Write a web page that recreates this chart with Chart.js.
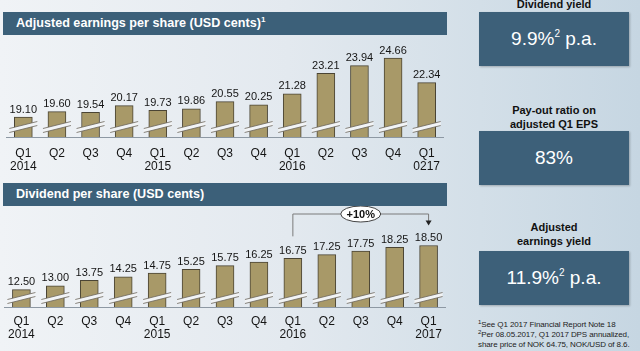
<!DOCTYPE html>
<html>
<head>
<meta charset="utf-8">
<script src="https://cdn.jsdelivr.net/npm/chart.js@4.4.1/dist/chart.umd.min.js"></script>
<style>
  body {
    margin: 0;
    width: 640px;
    height: 351px;
    overflow: hidden;
    position: relative;
    font-family: "Liberation Sans", Arial, sans-serif;
    background: linear-gradient(90deg, #f0f3f6 0%, #e3e9ef 45%, #d3dfe8 75%, #c6d6e2 100%);
  }
  canvas { position: absolute; left: 0; }
  .hdr {
    position: absolute; left: 3px; width: 444px; height: 23px;
    background: #3c6079; color: #fff; font-weight: bold; font-size: 12.6px;
    line-height: 23px; padding-left: 13px; box-sizing: border-box;
  }
  .hdr sup { font-size: 8px; vertical-align: 5px; line-height: 0; }
  .ttl {
    position: absolute; left: 479px; width: 150px; text-align: center;
    font-weight: bold; font-size: 11px; line-height: 14px; color: #111;
  }
  .box {
    position: absolute; left: 479px; width: 150px; height: 54px;
    background: #3d6079; color: #fff; text-align: center;
    font-size: 19px; line-height: 54px;
    box-shadow: 1px 1px 2px rgba(0,0,0,0.25);
  }
  .box sup { font-size: 10px; vertical-align: 8px; line-height: 0; }
  .note {
    position: absolute; left: 478px; font-size: 8px; line-height: 10px; color: #222;
    letter-spacing: -0.1px; white-space: nowrap;
  }
  .note sup { font-size: 6px; vertical-align: 3px; line-height: 0; }
</style>
</head>
<body>
<div class="hdr" style="top:12px">Adjusted earnings per share (USD cents)<sup>1</sup></div>
<div class="hdr" style="top:183px">Dividend per share (USD cents)</div>
<canvas id="eps" width="450" height="140" style="top:36px"></canvas>
<canvas id="dps" width="450" height="145" style="top:206px"></canvas>

<div class="ttl" style="top:-3px">Dividend yield</div>
<div class="box" style="top:12px">9.9%<sup>2</sup> p.a.</div>
<div class="ttl" style="top:103px">Pay-out ratio on<br>adjusted Q1 EPS</div>
<div class="box" style="top:131px">83%</div>
<div class="ttl" style="top:220px">Adjusted<br>earnings yield</div>
<div class="box" style="top:251px">11.9%<sup>2</sup> p.a.</div>
<div class="note" style="top:320px"><sup>1</sup>See Q1 2017 Financial Report Note 18</div>
<div class="note" style="top:330px"><sup>2</sup>Per 08.05.2017, Q1 2017 DPS annualized,</div>
<div class="note" style="top:340px">share price of NOK 64.75, NOK/USD of 8.6.</div>

<script>
const quarters = ['Q1', 'Q2', 'Q3', 'Q4', 'Q1', 'Q2', 'Q3', 'Q4', 'Q1', 'Q2', 'Q3', 'Q4', 'Q1'];
const epsYears = ['2014', '', '', '', '2015', '', '', '', '2016', '', '', '', '0217'];
const dpsYears = ['2014', '', '', '', '2015', '', '', '', '2016', '', '', '', '2017'];
const epsValues = [19.10, 19.60, 19.54, 20.17, 19.73, 19.86, 20.55, 20.25, 21.28, 23.21, 23.94, 24.66, 22.34];
const dpsValues = [12.50, 13.00, 13.75, 14.25, 14.75, 15.25, 15.75, 16.25, 16.75, 17.25, 17.75, 18.25, 18.50];
const dpsGrowth = { label: '+10%', from: 8, to: 12 };

const FONT = '"Liberation Sans", Arial, sans-serif';

// value above each bar
const valueLabels = {
  id: 'valueLabels',
  afterDatasetsDraw(chart) {
    const ctx = chart.ctx;
    const vals = chart.data.datasets[0].data;
    ctx.save();
    ctx.font = '11px ' + FONT;
    ctx.fillStyle = '#151515';
    ctx.textAlign = 'center';
    ctx.textBaseline = 'bottom';
    chart.getDatasetMeta(0).data.forEach((bar, i) => {
      ctx.fillText(vals[i].toFixed(2), bar.x, bar.y - 2);
    });
    ctx.restore();
  }
};

// axis break marks across the foot of each bar
const breakMarks = {
  id: 'breakMarks',
  afterDatasetsDraw(chart, args, opts) {
    const ctx = chart.ctx;
    const yc = chart.scales.y.bottom - opts.offset;
    ctx.save();
    chart.getDatasetMeta(0).data.forEach((bar) => {
      const x = bar.x;
      ctx.beginPath();
      ctx.moveTo(x - 14, yc + 1.5);
      ctx.lineTo(x + 14, yc - 5.5);
      ctx.lineTo(x + 14, yc - 1.5);
      ctx.lineTo(x - 14, yc + 5.5);
      ctx.closePath();
      ctx.fillStyle = '#f2f4f6';
      ctx.fill();
      ctx.strokeStyle = '#6b655a';
      ctx.lineWidth = 0.8;
      ctx.beginPath();
      ctx.moveTo(x - 14, yc + 1.5);
      ctx.lineTo(x + 14, yc - 5.5);
      ctx.moveTo(x - 14, yc + 5.5);
      ctx.lineTo(x + 14, yc - 1.5);
      ctx.stroke();
    });
    ctx.restore();
  }
};

// bracket with growth label over the dividend bars
const growthBracket = {
  id: 'growthBracket',
  afterDatasetsDraw(chart, args, opts) {
    if (!opts.label) return;
    const ctx = chart.ctx;
    const bars = chart.getDatasetMeta(0).data;
    const a = bars[opts.from], b = bars[opts.to];
    const top = chart.chartArea.top + 8;
    const startY = a.y - 22;
    const endY = b.y - 20;
    ctx.save();
    ctx.strokeStyle = '#7a7a7a';
    ctx.lineWidth = 1;
    ctx.beginPath();
    ctx.moveTo(a.x, startY);
    ctx.lineTo(a.x, top);
    ctx.lineTo(b.x, top);
    ctx.lineTo(b.x, endY - 4);
    ctx.stroke();
    ctx.fillStyle = '#222';
    ctx.beginPath();
    ctx.moveTo(b.x - 3, endY - 5);
    ctx.lineTo(b.x + 3, endY - 5);
    ctx.lineTo(b.x, endY);
    ctx.closePath();
    ctx.fill();
    const mx = (a.x + b.x) / 2;
    ctx.beginPath();
    ctx.ellipse(mx, top, 20, 8, 0, 0, Math.PI * 2);
    ctx.fillStyle = '#fff';
    ctx.fill();
    ctx.strokeStyle = '#444';
    ctx.stroke();
    ctx.fillStyle = '#111';
    ctx.font = 'bold 11px ' + FONT;
    ctx.textAlign = 'center';
    ctx.textBaseline = 'middle';
    ctx.fillText(opts.label, mx, top + 0.5);
    ctx.restore();
  }
};

function barChart(id, values, years, yMin, yMax, axisHeight, tickPad, breakOffset, bracket) {
  return new Chart(document.getElementById(id), {
    type: 'bar',
    data: {
      labels: quarters.map((q, i) => [q, years[i]]),
      datasets: [{
        data: values,
        backgroundColor: '#a89968',
        borderColor: '#4a4434',
        borderWidth: 1,
        barThickness: 18
      }]
    },
    options: {
      responsive: false,
      animation: false,
      devicePixelRatio: 1,
      layout: { padding: { left: 3, right: 3, top: 0, bottom: 0 } },
      plugins: {
        legend: { display: false },
        tooltip: { enabled: false },
        breakMarks: { offset: breakOffset },
        growthBracket: bracket || {}
      },
      scales: {
        y: { display: false, min: yMin, max: yMax },
        x: {
          grid: { display: false, drawTicks: false },
          border: { display: true, color: '#8d98a3', width: 1 },
          ticks: {
            padding: tickPad,
            color: '#151515',
            font: { family: FONT, size: 12, lineHeight: 1.1 },
            maxRotation: 0,
            autoSkip: false
          },
          afterFit(scale) { scale.height = axisHeight; }
        }
      }
    },
    plugins: [valueLabels, breakMarks, growthBracket]
  });
}

barChart('eps', epsValues, epsYears, 17.21, 26.74, 39, 10, 10, null);
barChart('dps', dpsValues, dpsYears, 10.13, 23.87, 44, 8, 9, dpsGrowth);
</script>
</body>
</html>
